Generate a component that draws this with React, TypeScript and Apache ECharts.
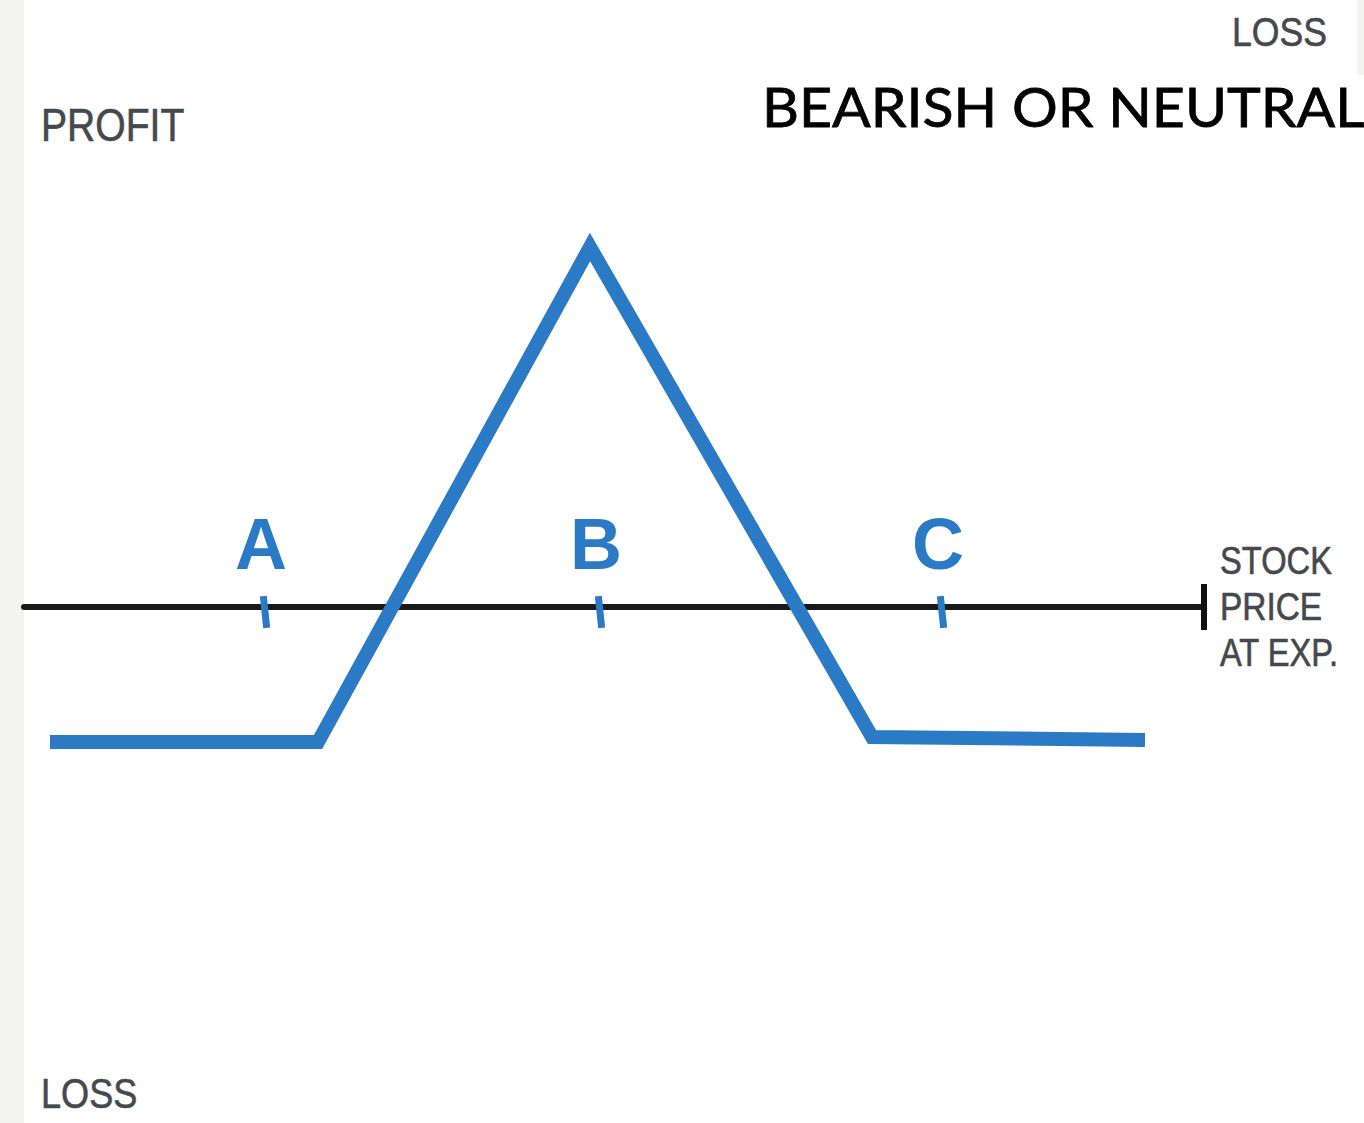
import React, { useEffect, useRef } from "react";
import * as echarts from "echarts";

// Stock price at expiration (x) and profit/loss (y) of the payoff line
const prices = [2.6, 29.4, 56.6, 84.8, 112.1];
const payoff = [-2.7, -2.7, 7.2, -2.6, -2.66];

// Strike prices marked on the axis
const strikeNames = ["A", "B", "C"];
const strikes = [24.1, 57.6, 91.8];

// Axis extent
const xMin = 0;
const xMax = 118;
const yMin = -10;
const yMax = 10;

const BLUE = "#2a7ac6";
const GRAY_TEXT = "#45484c";
const STRIP = "#f3f4ef";

export default function App() {
  const ref = useRef<HTMLDivElement>(null);

  useEffect(() => {
    if (!ref.current) return;
    const chart = echarts.init(ref.current, null, { renderer: "svg" });

    const grayText = (
      text: string,
      x: number,
      y: number,
      size: number,
      scaleX: number
    ) => ({
      type: "text",
      x,
      y,
      scaleX,
      z: 10,
      style: {
        text,
        x: 0,
        y: 0,
        fill: GRAY_TEXT,
        fontFamily: "Liberation Sans, Arial, sans-serif",
        fontSize: size,
        textVerticalAlign: "middle",
        verticalAlign: "middle",
        stroke: GRAY_TEXT,
        lineWidth: 0.6,
      },
    });

    chart.setOption({
      animation: false,
      backgroundColor: "#ffffff",
      grid: {
        left: 24,
        right: 160,
        top: 107,
        bottom: 16,
        containLabel: false,
      },
      xAxis: {
        type: "value",
        min: xMin,
        max: xMax,
        axisLine: { show: true, onZero: true, lineStyle: { color: "#1a1a1a", width: 6 } },
        axisTick: { show: false },
        axisLabel: { show: false },
        splitLine: { show: false },
      },
      yAxis: {
        type: "value",
        min: yMin,
        max: yMax,
        show: false,
        splitLine: { show: false },
      },
      graphic: [
        {
          type: "rect",
          shape: { x: 0, y: 0, width: 24, height: 1123 },
          style: { fill: STRIP },
          z: 0,
        },
        {
          type: "rect",
          shape: { x: 1357, y: 0, width: 7, height: 75 },
          style: { fill: STRIP },
          z: 0,
        },
        grayText("PROFIT", 41, 125, 46, 0.85),
        grayText("LOSS", 41, 1093, 43, 0.84),
        grayText("LOSS", 1232, 32, 40, 0.89),
        grayText("STOCK", 1220, 561, 38, 0.86),
        grayText("PRICE", 1220, 607, 38, 0.88),
        grayText("AT EXP.", 1220, 653, 38, 0.86),
        {
          type: "text",
          x: 762,
          y: 106,
          scaleX: 1.04,
          z: 10,
          style: {
            text: "BEARISH OR NEUTRAL",
            x: 0,
            y: 0,
            fill: "#000000",
            stroke: "#000000",
            lineWidth: 0.8,
            fontFamily: "Lato, sans-serif",
            fontSize: 55,
            textVerticalAlign: "middle",
            verticalAlign: "middle",
          },
        },
      ],
      series: [
        {
          type: "line",
          data: prices.map((p, i) => [p, payoff[i]]),
          symbol: "none",
          lineStyle: { color: BLUE, width: 14, cap: "butt", join: "miter" },
          z: 5,
          silent: true,
        },
        {
          type: "scatter",
          data: strikes.map((s, i) => ({ value: [s, 0], name: strikeNames[i] })),
          symbol: "rect",
          symbolSize: [7, 32],
          symbolRotate: 6,
          symbolOffset: [0, 5],
          itemStyle: { color: BLUE, opacity: 1 },
          label: {
            show: true,
            position: "top",
            distance: 16,
            formatter: (p: any) => p.name,
            color: BLUE,
            fontFamily: "Liberation Sans, Arial, sans-serif",
            fontWeight: "bold",
            fontSize: 72,
            offset: [-4, 0],
          },
          z: 6,
          silent: true,
          clip: false,
        },
        {
          type: "scatter",
          data: [[xMax, 0]],
          symbol: "rect",
          symbolSize: [6, 46],
          itemStyle: { color: "#111111", opacity: 1 },
          z: 6,
          silent: true,
          clip: false,
        },
      ],
    });

    return () => chart.dispose();
  }, []);

  return (
    <div
      ref={ref}
      style={{ position: "fixed", left: 0, top: 0, width: 1364, height: 1123 }}
    />
  );
}
